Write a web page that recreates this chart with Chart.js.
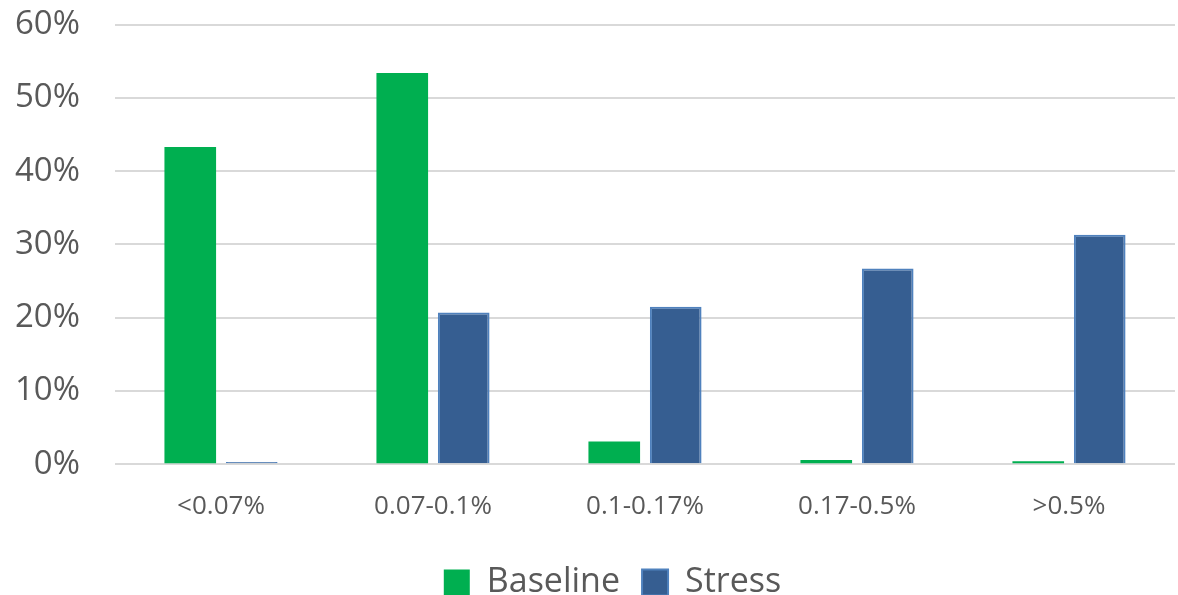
<!DOCTYPE html>
<html>
<head>
<meta charset="utf-8">
<script src="https://cdn.jsdelivr.net/npm/chart.js@4/dist/chart.umd.min.js"></script>
<style>
  html, body { margin: 0; padding: 0; background: #fff; }
  #wrap { width: 1178px; height: 595px; }
</style>
</head>
<body>
<div id="wrap"><canvas id="pdChart"></canvas></div>
<script>
// PD buckets on the x-axis
const buckets = ["<0.07%", "0.07-0.1%", "0.1-0.17%", "0.17-0.5%", ">0.5%"];

// Share of exposures in each bucket (%)
const baseline = [43.3, 53.4, 3.1, 0.6, 0.4];
const stress = [0.3, 20.7, 21.5, 26.7, 31.3];

// Y-axis range
const yMin = 0;
const yMax = 60;
const yStep = 10;

const textColor = "#595959";
const fontFamily = "'Open Sans', 'Noto Sans', sans-serif";

// Nudge the legend: centre it a bit right of the canvas middle
const legendShift = {
    id: "legendShift",
    afterLayout(chart) {
        const lg = chart.legend;
        if (!lg) return;
        lg.left = 50;
        lg.top -= 5;
        lg.bottom -= 5;
    },
};

const ctx = document.getElementById("pdChart").getContext("2d");
new Chart(ctx, {
    type: "bar",
    data: {
        labels: buckets,
        datasets: [
            {
                label: "Baseline",
                data: baseline,
                backgroundColor: "#00AF50",
                borderColor: "#00AF50",
                borderWidth: 0,
                categoryPercentage: 0.58,
                barPercentage: 0.84,
            },
            {
                label: "Stress",
                data: stress,
                backgroundColor: "#365E91",
                borderColor: "#4F81BD",
                borderWidth: 2,
                categoryPercentage: 0.58,
                barPercentage: 0.84,
            },
        ],
    },
    options: {
        responsive: true,
        maintainAspectRatio: false,
        animation: false,
        layout: {
            padding: { left: 0, right: 3, top: 0, bottom: -19.5 },
        },
        plugins: {
            tooltip: { enabled: false },
            legend: {
                position: "bottom",
                labels: {
                    boxWidth: 26,
                    boxHeight: 26,
                    padding: 22,
                    color: textColor,
                    font: { size: 34, family: fontFamily, lineHeight: 0.76 },
                },
            },
        },
        scales: {
            x: {
                grid: { display: false, drawTicks: false },
                border: { display: false },
                ticks: {
                    color: textColor,
                    padding: 26.5,
                    font: { size: 26, family: fontFamily },
                },
            },
            y: {
                min: yMin,
                max: yMax,
                afterFit(scale) {
                    scale.width = 115;
                    // tick padding only spaces labels from the plot, not vertically
                    scale.paddingTop = 24.5;
                    scale.paddingBottom = 19;
                },
                grid: {
                    color: "#D9D9D9",
                    lineWidth: 2,
                    drawTicks: false,
                },
                border: { display: false },
                ticks: {
                    stepSize: yStep,
                    color: textColor,
                    padding: 35,
                    font: { size: 33, family: fontFamily },
                    callback: value => `${value}%`,
                },
            },
        },
    },
    plugins: [legendShift],
});
</script>
</body>
</html>
